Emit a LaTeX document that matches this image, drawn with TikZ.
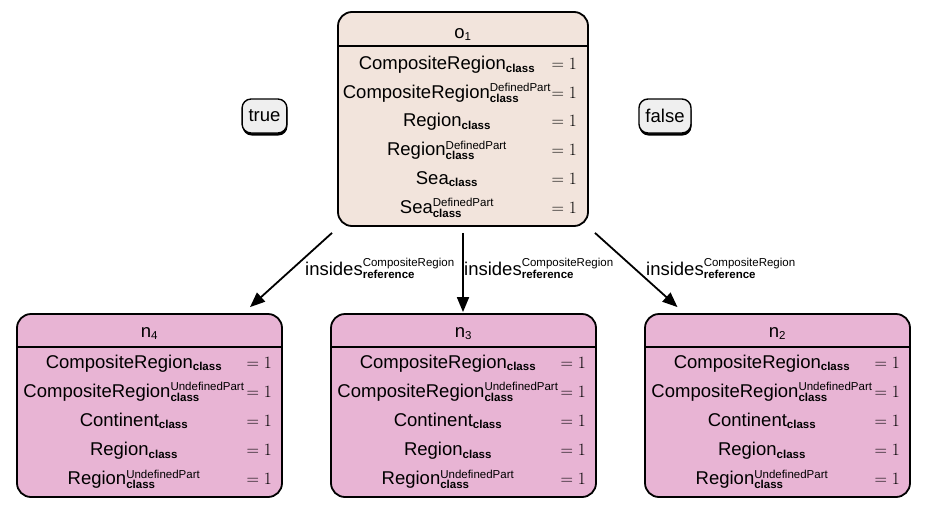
\documentclass[tikz,border=0pt]{standalone}
\usepackage{fontspec}
\newfontfamily\arial{Liberation Sans}
\usetikzlibrary{arrows.meta,calc,shadows}

\definecolor{peachc}{HTML}{F2E4DC}
\definecolor{pinkc}{HTML}{E8B4D4}
\definecolor{grayc}{HTML}{EFEFEF}

\newcommand{\mainf}{\arial\fontsize{18.5}{22}\selectfont}
\newcommand{\scrf}{\arial\fontsize{11.5}{13}\selectfont}
\newcommand{\LS}[2]{#1$_{\hbox{\scrf\bfseries #2}}$}
\newcommand{\LSS}[3]{#1$^{\hbox{\scrf #2}}_{\hbox{\scrf\bfseries #3}}$}
\newcommand{\RowT}[5]{%
  \node[lab] (#1l) at (#2,#4) {#5};
  \node[val] (#1v) at (#3,#4) {$=1$};}

\tikzset{
  box/.style={draw, line width=1.8pt, rounded corners=14pt, inner sep=0pt},
  sepline/.style={line width=1.8pt},
  lab/.style={anchor=base, inner sep=0pt, font=\mainf},
  val/.style={anchor=base east, inner sep=0pt, font=\fontsize{17}{20}\selectfont},
  tf/.style={draw, fill=grayc, line width=1.4pt, rounded corners=9pt,
    inner xsep=6.5pt, inner ysep=0pt, minimum height=34pt, font=\mainf,
    drop shadow={shadow xshift=0.5pt, shadow yshift=-2.5pt, fill=black, opacity=1}},
  edge/.style={line width=1.8pt, -{Triangle[length=15pt,width=12pt]}},
  elab/.style={anchor=base west, inner sep=0pt, font=\mainf}
}

\begin{document}
\begin{tikzpicture}[x=1pt,y=-1pt]
\useasboundingbox[fill=white] (0,0) rectangle (927,509);

% top node o1
\node[box, fill=peachc, minimum width=250pt, minimum height=214pt] (o1) at (463,119) {};
\draw[sepline] (o1.west |- 0,46) -- (o1.east |- 0,46);
\node[lab] (o1t) at (463,38) {o$_{\hbox{\scrf 1}}$};
\RowT{o1a}{447}{577}{69.5}{\LS{CompositeRegion}{class}}
\RowT{o1b}{447}{577}{98.2}{\LSS{CompositeRegion}{DefinedPart}{class}}
\RowT{o1c}{447}{577}{126.9}{\LS{Region}{class}}
\RowT{o1d}{447}{577}{155.6}{\LSS{Region}{DefinedPart}{class}}
\RowT{o1e}{447}{577}{184.3}{\LS{Sea}{class}}
\RowT{o1f}{447}{577}{213}{\LSS{Sea}{DefinedPart}{class}}

% true / false
\node[tf] (tnode) at (264.5,116) {true};
\node[tf] (fnode) at (665,116) {false};

% bottom nodes
\foreach \nm/\dx/\ix in {n4/0/4, n3/314/3, n2/628/2}{
  \node[box, fill=pinkc, minimum width=265pt, minimum height=183pt] (\nm) at (149.5+\dx,405.5) {};
  \draw[sepline] (\nm.west |- 0,347) -- (\nm.east |- 0,347);
  \node[lab] (\nm t) at (149.5+\dx,337) {n$_{\hbox{\scrf \ix}}$};
  \RowT{\nm a}{134+\dx}{272+\dx}{368}{\LS{CompositeRegion}{class}}
  \RowT{\nm b}{134+\dx}{272+\dx}{397}{\LSS{CompositeRegion}{UndefinedPart}{class}}
  \RowT{\nm c}{134+\dx}{272+\dx}{426}{\LS{Continent}{class}}
  \RowT{\nm d}{134+\dx}{272+\dx}{455.5}{\LS{Region}{class}}
  \RowT{\nm e}{134+\dx}{272+\dx}{484.5}{\LSS{Region}{UndefinedPart}{class}}
}

% edges
\draw[edge] ($(o1.south)+(-131,6)$) -- ($(n4.north)+(100.5,-6)$);
\draw[edge] ($(o1.south)+(0,6)$) -- ($(o1.south |- n3.north)+(0,-1)$);
\draw[edge] ($(o1.south)+(132,6)$) -- ($(n2.north)+(-100,-6)$);

% edge labels
\node[elab] (e1) at (305,275) {\LSS{insides}{CompositeRegion}{reference}};
\node[elab] (e2) at (464,275) {\LSS{insides}{CompositeRegion}{reference}};
\node[elab] (e3) at (646,275) {\LSS{insides}{CompositeRegion}{reference}};
\end{tikzpicture}
\end{document}
